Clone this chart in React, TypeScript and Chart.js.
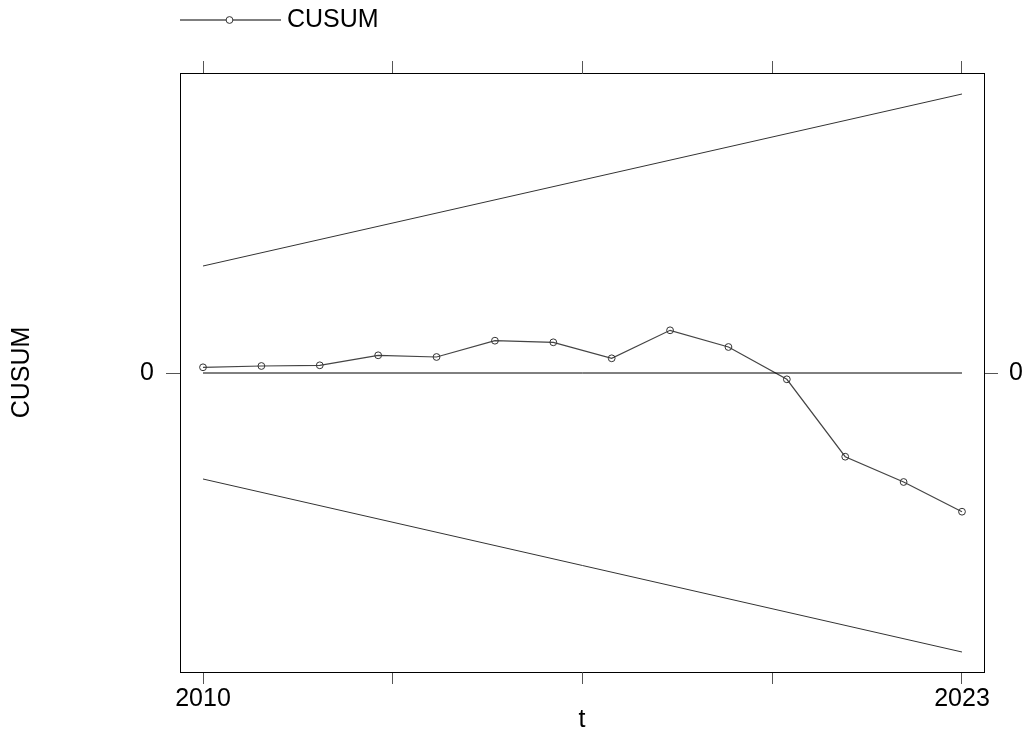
import React, { useEffect, useRef } from 'react';
import { Chart, registerables } from 'chart.js';

Chart.register(...registerables);

// ---- data ----
const years = [2010, 2011, 2012, 2013, 2014, 2015, 2016, 2017, 2018, 2019, 2020, 2021, 2022, 2023];
const cusum = [0.057, 0.07, 0.077, 0.177, 0.16, 0.323, 0.307, 0.147, 0.427, 0.26, -0.063, -0.837, -1.09, -1.387];
const boundYears = [2010, 2023];
const upperBound = [1.07, 2.79];
const lowerBound = [-1.06, -2.79];
const zeroLine = [0, 0];
const xTickValues = [2010, 2013.25, 2016.5, 2019.75, 2023];
const xTickLabels = ['2010', '', '', '', '2023'];
const yTickValues = [0];
const yTickLabels = ['0'];
const xRange = [2009.606, 2023.377];
const yRange = [-2.99, 3.0];
const seriesName = 'CUSUM';
const xTitle = 't';
const yTitle = 'CUSUM';

const FONT = "'Liberation Sans', Arial, sans-serif";
const FS = 25;

const legendPlugin = {
  id: 'rLegend',
  afterDraw(chart: any) {
    const ctx = chart.ctx;
    ctx.save();
    ctx.strokeStyle = '#555';
    ctx.lineWidth = 1.5;
    ctx.beginPath();
    ctx.moveTo(180, 20);
    ctx.lineTo(281, 20);
    ctx.stroke();
    ctx.beginPath();
    ctx.arc(229.5, 20, 3.4, 0, Math.PI * 2);
    ctx.fillStyle = '#fff';
    ctx.fill();
    ctx.lineWidth = 1;
    ctx.strokeStyle = '#333';
    ctx.stroke();
    ctx.fillStyle = '#000';
    ctx.font = `${FS}px ${FONT}`;
    ctx.textBaseline = 'alphabetic';
    ctx.textAlign = 'left';
    ctx.fillText(seriesName, 287, 27);
    ctx.restore();
  },
};

export default function App() {
  const ref = useRef<HTMLCanvasElement | null>(null);

  useEffect(() => {
    if (!ref.current) return;
    Chart.defaults.font.family = FONT;
    Chart.defaults.color = '#000';

    const xTicks = (s: any) => {
      s.ticks = xTickValues.map((v) => ({ value: v }));
    };
    const yTicks = (s: any) => {
      s.ticks = yTickValues.map((v) => ({ value: v }));
    };
    const xLabel = (v: any) => {
      const i = xTickValues.indexOf(Number(v));
      return i >= 0 ? xTickLabels[i] : '';
    };
    const yLabel = (v: any) => {
      const i = yTickValues.indexOf(Number(v));
      return i >= 0 ? yTickLabels[i] : '';
    };
    const gridCommon = {
      drawOnChartArea: false,
      drawTicks: true,
      color: '#555',
      tickColor: '#555',
      lineWidth: 1,
    };
    const borderCommon = { display: true, color: '#000', width: 1 };

    const chart = new Chart(ref.current, {
      type: 'line',
      data: {
        datasets: [
          {
            label: 'upper',
            data: boundYears.map((x, i) => ({ x, y: upperBound[i] })),
            borderColor: '#333',
            borderWidth: 1,
            pointRadius: 0,
            xAxisID: 'x',
            yAxisID: 'y',
          },
          {
            label: 'lower',
            data: boundYears.map((x, i) => ({ x, y: lowerBound[i] })),
            borderColor: '#333',
            borderWidth: 1,
            pointRadius: 0,
            xAxisID: 'x',
            yAxisID: 'y',
          },
          {
            label: 'zero',
            data: boundYears.map((x, i) => ({ x, y: zeroLine[i] })),
            borderColor: '#000',
            borderWidth: 1,
            pointRadius: 0,
            xAxisID: 'x',
            yAxisID: 'y',
          },
          {
            label: seriesName,
            data: years.map((x, i) => ({ x, y: cusum[i] })),
            borderColor: '#444',
            borderWidth: 1.2,
            pointRadius: 3.4,
            pointBorderWidth: 1,
            pointBorderColor: '#333',
            pointBackgroundColor: 'rgba(0,0,0,0)',
            pointStyle: 'circle',
            xAxisID: 'x',
            yAxisID: 'y',
          },
        ],
      },
      options: {
        animation: false,
        responsive: false,
        maintainAspectRatio: false,
        events: [],
        layout: { padding: 0 },
        plugins: {
          legend: { display: false },
          tooltip: { enabled: false },
          title: { display: false },
        },
        scales: {
          x: {
            type: 'linear',
            position: 'bottom',
            min: xRange[0],
            max: xRange[1],
            afterBuildTicks: xTicks,
            afterFit: (s: any) => {
              s.height = 63;
            },
            ticks: {
              callback: xLabel,
              padding: 0,
              maxRotation: 0,
              minRotation: 0,
              autoSkip: false,
              font: { size: FS },
              color: '#000',
            },
            grid: { ...gridCommon, tickLength: 12 },
            border: borderCommon,
            title: {
              display: true,
              text: xTitle,
              font: { size: FS },
              color: '#000',
              padding: { top: 0, bottom: 0 },
            },
          },
          x2: {
            type: 'linear',
            position: 'top',
            min: xRange[0],
            max: xRange[1],
            afterBuildTicks: xTicks,
            afterFit: (s: any) => {
              s.height = 73;
            },
            ticks: { callback: () => '', autoSkip: false, maxRotation: 0, font: { size: FS } },
            grid: { ...gridCommon, tickLength: 12 },
            border: borderCommon,
          },
          y: {
            type: 'linear',
            position: 'left',
            min: yRange[0],
            max: yRange[1],
            afterBuildTicks: yTicks,
            afterFit: (s: any) => {
              s.width = 180;
            },
            ticks: {
              callback: yLabel,
              padding: 12,
              autoSkip: false,
              font: { size: FS },
              color: '#000',
            },
            grid: { ...gridCommon, tickLength: 14 },
            border: borderCommon,
            title: {
              display: true,
              text: yTitle,
              font: { size: FS },
              color: '#000',
              padding: { top: 7, bottom: 0 },
            },
          },
          y2: {
            type: 'linear',
            position: 'right',
            min: yRange[0],
            max: yRange[1],
            afterBuildTicks: yTicks,
            afterFit: (s: any) => {
              s.width = 40;
            },
            ticks: {
              callback: yLabel,
              padding: 11,
              autoSkip: false,
              font: { size: FS },
              color: '#000',
            },
            grid: { ...gridCommon, tickLength: 14 },
            border: borderCommon,
          },
        },
      },
      plugins: [legendPlugin],
    } as any);

    return () => chart.destroy();
  }, []);

  return (
    <div style={{ position: 'fixed', left: 0, top: 0, width: 1024, height: 735, background: '#fff' }}>
      <canvas ref={ref} width={1024} height={735} style={{ display: 'block', width: 1024, height: 735 }} />
    </div>
  );
}
